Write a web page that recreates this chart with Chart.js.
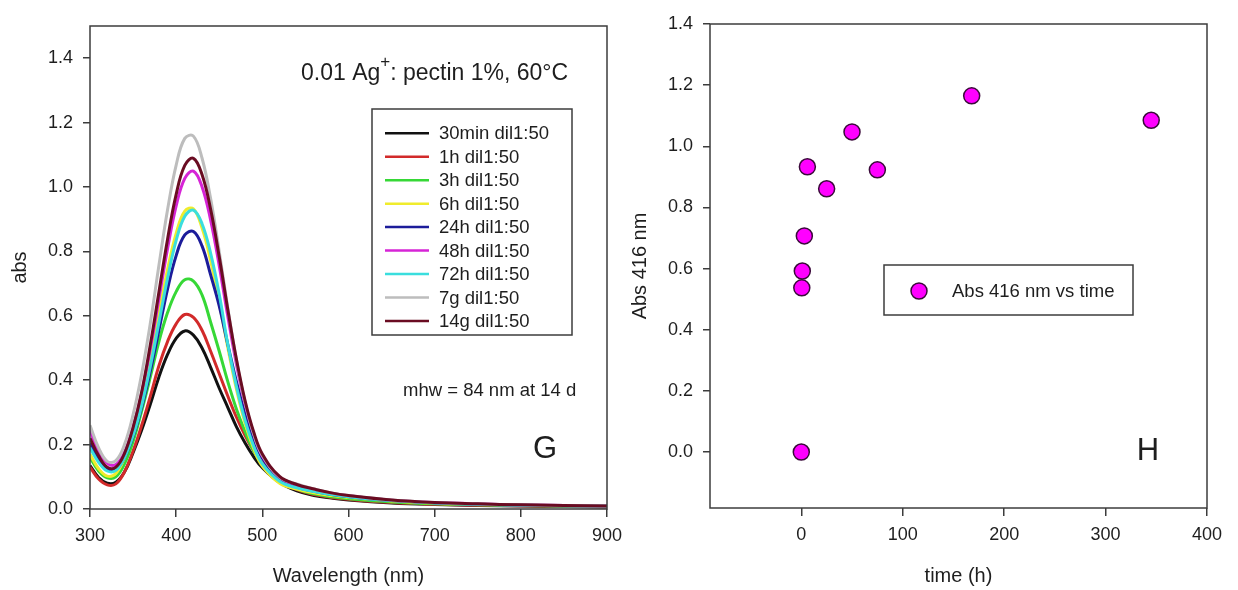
<!DOCTYPE html>
<html>
<head>
<meta charset="utf-8">
<script src="https://cdn.jsdelivr.net/npm/chart.js@4.4.1/dist/chart.umd.min.js"></script>
<style>
  body { margin: 0; background: #fff; }
  canvas { position: absolute; top: 0; }
</style>
</head>
<body>
<canvas id="kinetics" width="618" height="590" style="left:620px"></canvas>
<canvas id="spectra" width="640" height="590" style="left:0"></canvas>
<script>
// --- data ---
const wavelengths = [300, 310, 320, 330, 340, 350, 360, 370, 380, 390, 400, 410, 420, 430, 440, 450, 460, 470, 480, 490, 500, 520, 540, 560, 580, 600, 650, 700, 750, 800, 900];

const abs30min = [.135, .098, .080, .083, .115, .175, .245, .325, .41, .48, .53, .553, .54, .50, .44, .375, .315, .255, .205, .162, .128, .082, .056, .042, .034, .028, .019, .014, .011, .009, .006];
const abs1h    = [.13, .093, .075, .078, .115, .18, .26, .35, .445, .52, .575, .604, .595, .555, .49, .42, .35, .285, .228, .18, .142, .09, .06, .045, .036, .03, .02, .015, .012, .01, .007];
const abs3h    = [.16, .118, .097, .10, .14, .21, .305, .41, .52, .61, .675, .712, .708, .665, .58, .49, .395, .31, .24, .18, .14, .088, .062, .047, .038, .032, .022, .016, .013, .011, .008];
const abs6h    = [.17, .125, .102, .11, .159, .234, .338, .464, .606, .744, .856, .925, .932, .873, .771, .64, .50, .371, .266, .187, .133, .08, .062, .05, .042, .036, .025, .018, .015, .012, .009];
const abs24h   = [.205, .152, .123, .122, .16, .225, .316, .428, .555, .683, .787, .851, .862, .817, .727, .63, .51, .395, .295, .215, .158, .094, .068, .055, .045, .038, .026, .019, .015, .012, .009];
const abs48h   = [.245, .18, .142, .138, .175, .253, .36, .497, .652, .808, .941, 1.027, 1.049, 1.001, .897, .755, .597, .449, .326, .232, .165, .098, .074, .06, .049, .041, .027, .02, .016, .013, .009];
const abs72h   = [.19, .145, .118, .12, .16, .228, .322, .443, .579, .717, .834, .909, .928, .886, .794, .667, .51, .38, .275, .195, .14, .086, .066, .054, .045, .038, .026, .019, .015, .012, .009];
const abs7g    = [.26, .19, .148, .15, .20, .293, .42, .577, .757, .929, 1.068, 1.151, 1.158, 1.09, .964, .799, .623, .462, .331, .233, .167, .099, .078, .062, .05, .042, .028, .02, .016, .013, .009];
const abs14g   = [.22, .165, .13, .13, .172, .253, .364, .51, .674, .838, .977, 1.067, 1.089, 1.039, .931, .783, .618, .464, .336, .239, .171, .101, .076, .062, .05, .042, .028, .02, .016, .013, .009];

const seriesLabels = ['30min dil1:50', '1h dil1:50', '3h dil1:50', '6h dil1:50', '24h dil1:50', '48h dil1:50', '72h dil1:50', '7g dil1:50', '14g dil1:50'];
const spectraSeries = [abs30min, abs1h, abs3h, abs6h, abs24h, abs48h, abs72h, abs7g, abs14g];

const wavelengthTicks = [300, 400, 500, 600, 700, 800, 900];
const absTicks = [0, 0.2, 0.4, 0.6, 0.8, 1.0, 1.2, 1.4];

const timeHours = [0, 0.5, 1, 3, 6, 25, 50, 75, 168, 345];
const abs416 = [0, 0.537, 0.592, 0.707, 0.933, 0.861, 1.047, 0.923, 1.165, 1.085];
const timeTicks = [0, 100, 200, 300, 400];

// --- styles ---
const seriesColors = ['#111111', '#d22a2a', '#36d836', '#f0ec2c', '#1c1c9a', '#d624d6', '#3adede', '#bdbdbd', '#6a0c22'];
const FONT = 'Liberation Sans, Arial, sans-serif';
const axisColor = '#3c3c3c';
const textColor = '#1e1e1e';

Chart.defaults.font.family = FONT;
Chart.defaults.color = textColor;

function axis(min, max, ticks, fmt, title, titlePad, fitSize, horizontal) {
  return {
    type: 'linear', min: min, max: max,
    afterBuildTicks: s => { s.ticks = ticks.map(v => ({ value: v })); },
    afterFit: s => {
      if (horizontal) { s.height = fitSize; s.paddingLeft = 0; s.paddingRight = 0; }
      else { s.width = fitSize; s.paddingTop = 0; s.paddingBottom = 0; }
    },
    grid: { drawOnChartArea: false, drawTicks: true, tickLength: horizontal ? 8 : 7, color: axisColor, lineWidth: 1.5 },
    border: { display: false },
    ticks: { font: { size: 18 }, color: textColor, padding: horizontal ? 8 : 10, callback: fmt, maxRotation: 0, autoSkip: false },
    title: { display: true, text: title, font: { size: 20 }, color: textColor, padding: titlePad }
  };
}

function frame(ctx, a) {
  ctx.strokeStyle = axisColor;
  ctx.lineWidth = 1.5;
  ctx.strokeRect(a.left, a.top, a.right - a.left, a.bottom - a.top);
}

const spectraDecor = {
  id: 'spectraDecor',
  afterDraw(chart) {
    const ctx = chart.ctx;
    ctx.save();
    frame(ctx, chart.chartArea);

    // legend box
    ctx.fillStyle = '#fff';
    ctx.fillRect(372, 109, 200, 226);
    ctx.strokeStyle = axisColor;
    ctx.lineWidth = 1.5;
    ctx.strokeRect(372, 109, 200, 226);
    ctx.font = '18.5px ' + FONT;
    ctx.textBaseline = 'middle';
    seriesLabels.forEach((lab, i) => {
      const y = 133.3 + i * 23.45;
      ctx.strokeStyle = seriesColors[i];
      ctx.lineWidth = 2.5;
      ctx.beginPath(); ctx.moveTo(385, y); ctx.lineTo(429, y); ctx.stroke();
      ctx.fillStyle = textColor;
      ctx.fillText(lab, 439, y + 1);
    });

    // annotations
    ctx.fillStyle = textColor;
    ctx.font = '23px ' + FONT;
    ctx.textBaseline = 'alphabetic';
    let x = 301;
    const base = 80;
    ctx.fillText('0.01 Ag', x, base);
    x += ctx.measureText('0.01 Ag').width;
    ctx.font = '17px ' + FONT;
    ctx.fillText('+', x, base - 13);
    x += ctx.measureText('+').width;
    ctx.font = '23px ' + FONT;
    ctx.fillText(': pectin 1%, 60°C', x, base);

    ctx.font = '18.5px ' + FONT;
    ctx.textBaseline = 'middle';
    ctx.fillText('mhw = 84 nm at 14 d', 403, 391);

    ctx.font = '31px ' + FONT;
    ctx.textAlign = 'center';
    ctx.fillText('G', 545, 449);
    ctx.restore();
  }
};

const kineticsDecor = {
  id: 'kineticsDecor',
  afterDraw(chart) {
    const ctx = chart.ctx;
    ctx.save();
    frame(ctx, chart.chartArea);

    ctx.fillStyle = '#fff';
    ctx.fillRect(264, 265, 249, 50);
    ctx.strokeStyle = axisColor;
    ctx.lineWidth = 1.5;
    ctx.strokeRect(264, 265, 249, 50);
    ctx.beginPath();
    ctx.arc(299, 291, 8, 0, Math.PI * 2);
    ctx.fillStyle = '#ff00ff';
    ctx.fill();
    ctx.strokeStyle = '#3a0a3a';
    ctx.stroke();
    ctx.fillStyle = textColor;
    ctx.font = '18.5px ' + FONT;
    ctx.textBaseline = 'middle';
    ctx.fillText('Abs 416 nm vs time', 332, 292);

    ctx.font = '31px ' + FONT;
    ctx.textAlign = 'center';
    ctx.fillText('H', 528, 451);
    ctx.restore();
  }
};

new Chart(document.getElementById('spectra'), {
  type: 'line',
  data: {
    datasets: spectraSeries.map((vals, i) => ({
      label: seriesLabels[i],
      data: wavelengths.map((w, j) => ({ x: w, y: vals[j] })),
      borderColor: seriesColors[i],
      borderWidth: 3,
      pointRadius: 0,
      tension: 0.4,
      fill: false,
      order: spectraSeries.length - i
    }))
  },
  options: {
    responsive: false,
    animation: false,
    devicePixelRatio: 1,
    layout: { padding: { top: 26, right: 33, left: 0, bottom: 0 } },
    scales: {
      x: axis(300, 900, wavelengthTicks, v => v, 'Wavelength (nm)', { top: 0, bottom: 2 }, 81, true),
      y: axis(0, 1.5, absTicks, v => v.toFixed(1), 'abs', { top: 8, bottom: 0 }, 90, false)
    },
    plugins: { legend: { display: false }, tooltip: { enabled: false } }
  },
  plugins: [spectraDecor]
});

new Chart(document.getElementById('kinetics'), {
  type: 'scatter',
  data: {
    datasets: [{
      label: 'Abs 416 nm vs time',
      data: timeHours.map((t, i) => ({ x: t, y: abs416[i] })),
      pointRadius: 8,
      pointBackgroundColor: '#ff00ff',
      pointBorderColor: '#3a0a3a',
      pointBorderWidth: 1.5
    }]
  },
  options: {
    responsive: false,
    animation: false,
    devicePixelRatio: 1,
    layout: { padding: { top: 24, right: 31, left: 0, bottom: 0 } },
    scales: {
      x: axis(-90, 400, timeTicks, v => v, 'time (h)', { top: 0, bottom: 2 }, 82, true),
      y: axis(-0.183, 1.4, absTicks, v => v.toFixed(1), 'Abs 416 nm', { top: 8, bottom: 0 }, 90, false)
    },
    plugins: { legend: { display: false }, tooltip: { enabled: false } }
  },
  plugins: [kineticsDecor]
});
</script>
</body>
</html>
